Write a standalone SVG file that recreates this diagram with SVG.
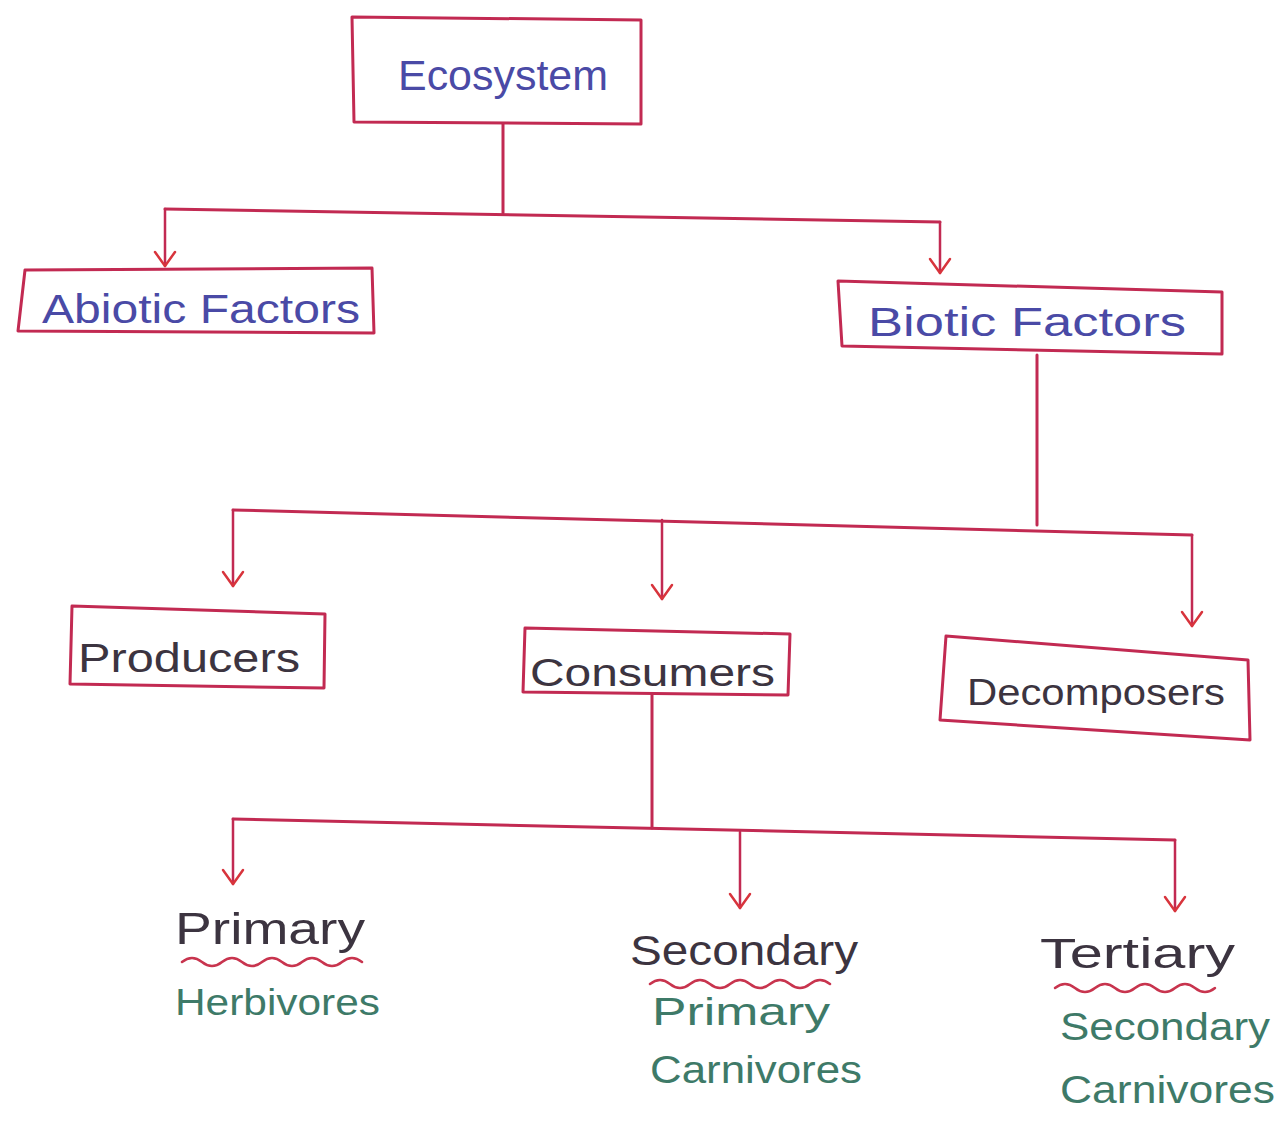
<svg xmlns="http://www.w3.org/2000/svg" width="1278" height="1131" viewBox="0 0 1278 1131">
<defs>
<marker id="arr" viewBox="0 0 24 24" refX="20" refY="12" markerWidth="24" markerHeight="24" markerUnits="userSpaceOnUse" orient="auto">
<path d="M6,2 L20,12 L6,22" fill="none" stroke="#d8343c" stroke-width="2.5" stroke-linecap="round" stroke-linejoin="round"/>
</marker>
<style>
.box{fill:none;stroke:#c22a52;stroke-width:3;stroke-linejoin:round}
.ln{fill:none;stroke:#c22a52;stroke-width:3;stroke-linecap:round}
.ar{fill:none;stroke:#c22a52;stroke-width:2.5;stroke-linecap:round}
.t{font-family:"Liberation Sans",Arial,sans-serif}
.blue{fill:#4a4aa6}
.dark{fill:#3c3440}
.green{fill:#3e7a68}
.wave{fill:none;stroke:#c8344e;stroke-width:2.5;stroke-linecap:round}
</style>
</defs>
<rect width="1278" height="1131" fill="#ffffff"/>
<g id="connectors">
<path class="ln" d="M503,124 L503,213"/>
<path class="ln" d="M165,209 L940,222"/>
<path class="ar" d="M165,209 L165,266" marker-end="url(#arr)"/>
<path class="ar" d="M940,222 L940,273" marker-end="url(#arr)"/>
<path class="ln" d="M1037,355 L1037,525"/>
<path class="ln" d="M233,510 L1192,535"/>
<path class="ar" d="M233,510 L233,586" marker-end="url(#arr)"/>
<path class="ar" d="M662,520 L662,599" marker-end="url(#arr)"/>
<path class="ar" d="M1192,535 L1192,626" marker-end="url(#arr)"/>
<path class="ln" d="M652,695 L652,828"/>
<path class="ln" d="M233,819 L1175,840"/>
<path class="ar" d="M233,819 L233,884" marker-end="url(#arr)"/>
<path class="ar" d="M740,832 L740,908" marker-end="url(#arr)"/>
<path class="ar" d="M1175,840 L1175,911" marker-end="url(#arr)"/>
</g>
<g id="ecosystem">
<path class="box" d="M352,17 L641,20 L641,124 L354,122 Z"/>
<text class="t blue" x="398" y="90" font-size="42" textLength="210" lengthAdjust="spacingAndGlyphs">Ecosystem</text>
</g>
<g id="abiotic">
<path class="box" d="M25,270 L372,268 L374,333 L18,331 Z"/>
<text class="t blue" x="42" y="323" font-size="40" textLength="318" lengthAdjust="spacingAndGlyphs">Abiotic Factors</text>
</g>
<g id="biotic">
<path class="box" d="M838,281 L1222,292 L1222,354 L842,346 Z"/>
<text class="t blue" x="868" y="336" font-size="40" textLength="318" lengthAdjust="spacingAndGlyphs">Biotic Factors</text>
</g>
<g id="producers">
<path class="box" d="M72,606 L325,614 L324,688 L70,684 Z"/>
<text class="t dark" x="78" y="672" font-size="40" textLength="222" lengthAdjust="spacingAndGlyphs">Producers</text>
</g>
<g id="consumers">
<path class="box" d="M525,628 L790,634 L788,695 L523,692 Z"/>
<text class="t dark" x="530" y="686" font-size="38" textLength="245" lengthAdjust="spacingAndGlyphs">Consumers</text>
</g>
<g id="decomposers">
<path class="box" d="M946,636 L1248,660 L1250,740 L940,720 Z"/>
<text class="t dark" x="967" y="705" font-size="36" textLength="258" lengthAdjust="spacingAndGlyphs">Decomposers</text>
</g>
<g id="primary">
<text class="t dark" x="175" y="944" font-size="44" textLength="190" lengthAdjust="spacingAndGlyphs">Primary</text>
<path class="wave" d="M182,962 q10,-8 20,0 t20,0 t20,0 t20,0 t20,0 t20,0 t20,0 t20,0 t20,0"/>
<text class="t green" x="175" y="1015" font-size="36" textLength="205" lengthAdjust="spacingAndGlyphs">Herbivores</text>
</g>
<g id="secondary">
<text class="t dark" x="630" y="965" font-size="42" textLength="228" lengthAdjust="spacingAndGlyphs">Secondary</text>
<path class="wave" d="M650,984 q10,-8 20,0 t20,0 t20,0 t20,0 t20,0 t20,0 t20,0 t20,0 t20,0"/>
<text class="t green" x="652" y="1025" font-size="38" textLength="178" lengthAdjust="spacingAndGlyphs">Primary</text>
<text class="t green" x="650" y="1083" font-size="38" textLength="212" lengthAdjust="spacingAndGlyphs">Carnivores</text>
</g>
<g id="tertiary">
<text class="t dark" x="1040" y="968" font-size="42" textLength="195" lengthAdjust="spacingAndGlyphs">Tertiary</text>
<path class="wave" d="M1055,988 q10,-8 20,0 t20,0 t20,0 t20,0 t20,0 t20,0 t20,0 t20,0"/>
<text class="t green" x="1060" y="1040" font-size="38" textLength="210" lengthAdjust="spacingAndGlyphs">Secondary</text>
<text class="t green" x="1060" y="1103" font-size="38" textLength="215" lengthAdjust="spacingAndGlyphs">Carnivores</text>
</g>
</svg>
